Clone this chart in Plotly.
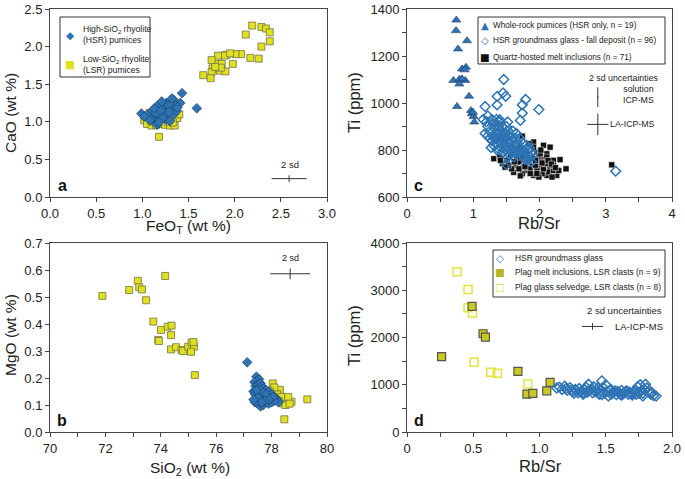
import plotly.graph_objects as go

# ---------------- panel a: CaO vs FeOT ----------------
a_hsr_feo = [0.99, 1.43, 1.59, 1.34, 1.26, 1.16, 1.23, 1.10, 1.05, 1.12, 1.17, 1.26, 1.34, 1.37,
             1.41, 1.30, 1.19, 1.25, 1.30, 1.16, 1.10, 1.21, 1.36, 1.26, 1.14, 1.08, 1.20, 1.28,
             1.32, 1.13, 1.22, 1.38, 1.02, 1.18, 1.29]
a_hsr_cao = [1.11, 1.38, 1.18, 1.29, 1.25, 1.21, 1.16, 1.14, 1.09, 1.05, 1.01, 1.03, 1.10, 1.14,
             1.25, 1.18, 1.09, 1.07, 1.01, 0.96, 1.03, 1.27, 1.21, 1.12, 1.12, 1.02, 1.15, 1.22,
             1.31, 1.18, 1.05, 1.19, 1.07, 0.99, 1.13]
a_lsr_feo = [1.02, 1.05, 1.10, 1.15, 1.20, 1.25, 1.30, 1.35, 1.38, 1.40, 1.08, 1.18, 1.12, 1.28,
             1.33, 1.22, 1.15, 1.03,
             2.19, 2.29, 2.34, 2.38, 2.38, 2.12, 2.29, 2.17, 2.26, 2.07, 2.01, 1.98, 1.91, 1.89,
             1.82, 1.80, 1.75, 1.86, 1.84, 1.90, 1.76, 1.75, 1.66, 1.74, 1.85, 1.79, 1.95]
a_lsr_cao = [1.02, 0.97, 0.95, 0.96, 0.97, 0.96, 0.95, 0.95, 1.05, 1.10, 1.12, 0.80, 1.00, 1.00,
             0.99, 1.04, 1.08, 1.08,
             2.28, 2.26, 2.24, 2.19, 2.07, 2.16, 2.00, 1.85, 1.84, 1.90, 1.90, 1.77, 1.89, 1.88,
             1.88, 1.77, 1.82, 1.77, 1.68, 1.67, 1.71, 1.66, 1.62, 1.58, 1.72, 1.73, 1.91]

# ---------------- panel b: MgO vs SiO2 ----------------
b_hsr_sio2 = [77.12, 77.45, 77.55, 77.38, 77.42, 77.50, 77.60, 77.65, 77.70, 77.80, 77.90, 78.00,
              78.10, 78.20, 78.25, 77.35, 77.40, 77.45, 77.40, 77.50, 77.60, 77.70, 77.80, 77.90,
              78.00, 78.10, 77.55, 77.65, 77.75, 77.85, 77.95, 77.60, 77.70, 77.80, 77.50, 77.35,
              77.45, 78.05, 77.90, 77.75, 77.65]
b_hsr_mgo = [0.258, 0.205, 0.195, 0.185, 0.170, 0.175, 0.180, 0.170, 0.160, 0.155, 0.150, 0.140,
             0.130, 0.120, 0.110, 0.150, 0.140, 0.120, 0.110, 0.105, 0.095, 0.100, 0.110, 0.105,
             0.110, 0.115, 0.140, 0.130, 0.125, 0.130, 0.125, 0.155, 0.145, 0.140, 0.130, 0.120,
             0.155, 0.130, 0.120, 0.115, 0.110]
b_lsr_sio2 = [71.89, 73.17, 72.86, 73.22, 73.32, 74.16, 73.47, 73.73, 74.01, 74.25, 74.39, 74.37,
              73.91, 73.93, 74.37, 74.55, 74.75, 74.80, 74.99, 75.11, 75.20, 75.18, 75.09, 75.23,
              78.04, 78.54, 78.72, 79.29, 78.46, 78.42, 78.30, 78.20, 78.10, 78.35, 78.60, 78.50,
              78.25, 78.65, 77.95, 78.15]
b_lsr_mgo = [0.504, 0.560, 0.526, 0.536, 0.528, 0.578, 0.488, 0.409, 0.378, 0.390, 0.394, 0.359,
             0.341, 0.337, 0.306, 0.314, 0.304, 0.300, 0.316, 0.331, 0.316, 0.333, 0.297, 0.211,
             0.180, 0.125, 0.112, 0.121, 0.047, 0.106, 0.156, 0.140, 0.165, 0.130, 0.130, 0.100,
             0.115, 0.105, 0.150, 0.120]

# ---------------- panel c: Ti vs Rb/Sr ----------------
c_wr_rbsr = [0.745, 0.74, 0.906, 0.77, 0.83, 0.89, 0.87, 0.88, 0.70, 0.79, 0.79, 0.936, 0.755,
             0.966, 0.98, 1.006, 1.016, 0.83, 0.996]
c_wr_ti = [1353, 1308, 1265, 1230, 1145, 1152, 1141, 1096, 1096, 1101, 1081, 1029, 985, 968,
           954, 943, 919, 1103, 961]
c_gl_rbsr = [1.20, 1.22, 1.25, 1.28, 1.30, 1.32, 1.34, 1.36, 1.38, 1.40, 1.42, 1.44, 1.46, 1.48,
             1.50, 1.52, 1.54, 1.56, 1.58, 1.60, 1.62, 1.64, 1.66, 1.68, 1.70, 1.72, 1.74, 1.76,
             1.78, 1.80, 1.82, 1.84, 1.86, 1.88, 1.90, 1.25, 1.28, 1.30, 1.33, 1.35, 1.38, 1.40,
             1.43, 1.45, 1.47, 1.50, 1.53, 1.55, 1.57, 1.60, 1.63, 1.18, 1.15, 1.22, 1.27, 1.31,
             1.36, 1.42, 1.48, 1.52, 1.58, 1.65, 1.70, 1.74, 1.80, 1.85, 1.35, 1.40, 1.45, 1.32,
             1.37, 1.41, 1.46, 1.51, 1.56, 1.61, 1.66, 1.78, 1.83, 1.87,
             1.46, 1.18, 1.36, 1.36, 1.45, 1.49, 1.79, 1.74, 1.99, 1.74, 1.71, 1.52, 1.40, 1.50,
             3.15, 1.22]
c_gl_ti = [920, 900, 880, 930, 910, 890, 870, 850, 900, 880, 860, 840, 820, 870, 850, 830, 810,
           860, 840, 820, 800, 790, 830, 810, 790, 780, 800, 770, 790, 760, 780, 800, 770, 750,
           780, 850, 840, 860, 830, 910, 820, 800, 900, 790, 810, 900, 880, 780, 800, 880, 850,
           870, 930, 860, 810, 820, 800, 830, 800, 770, 790, 870, 850, 830, 820, 810, 930, 920,
           870, 850, 870, 850, 850, 810, 830, 770, 790, 760, 760, 790,
           1100, 985, 1028, 992, 1043, 1029, 1015, 992, 972, 957, 926, 919, 929, 739, 710, 945]
c_mi_rbsr = [1.74, 1.91, 2.06, 2.16, 1.31, 1.40, 1.44, 1.61, 1.64, 1.74, 1.96, 1.99, 2.07, 2.21,
             2.31, 2.40, 2.26, 2.11, 1.91, 1.81, 2.01, 2.16, 2.04, 1.89, 1.79, 1.74, 1.58, 1.96,
             2.14, 2.21, 2.01, 1.84, 1.69, 1.91, 1.81, 2.11, 1.51, 1.66, 1.86, 2.06, 2.21, 1.99,
             2.19, 2.29, 1.53, 1.76, 1.94, 2.09, 2.11, 2.01, 1.84, 1.71, 1.66, 1.56, 1.41, 1.48,
             1.86, 1.96, 2.04, 2.13, 1.69, 1.78, 1.88, 2.18, 2.24, 1.94, 1.62, 2.02, 1.71, 3.09]
c_mi_ti = [859, 834, 820, 812, 763, 770, 742, 705, 735, 770, 791, 770, 759, 756, 759, 720, 692,
           692, 692, 713, 727, 727, 699, 735, 742, 699, 720, 713, 706, 713, 749, 756, 749, 812,
           784, 784, 756, 770, 720, 720, 734, 685, 685, 713, 735, 727, 735, 742, 770, 784, 827,
           806, 791, 777, 756, 727, 700, 700, 745, 755, 720, 730, 765, 740, 725, 755, 750, 800,
           690, 737]

# ---------------- panel d: Ti vs Rb/Sr ----------------
d_gl_rbsr = [1.13, 1.17, 1.19, 1.21, 1.23, 1.25, 1.27, 1.29, 1.30, 1.32, 1.33, 1.35, 1.37, 1.38,
             1.40, 1.41, 1.43, 1.45, 1.47, 1.48, 1.50, 1.51, 1.52, 1.54, 1.55, 1.57, 1.58, 1.60,
             1.62, 1.63, 1.65, 1.67, 1.68, 1.70, 1.72, 1.74, 1.75, 1.76, 1.78, 1.79, 1.80, 1.82,
             1.84, 1.86, 1.88, 1.15, 1.20, 1.24, 1.28, 1.31, 1.34, 1.36, 1.39, 1.42, 1.44, 1.46,
             1.49, 1.53, 1.56, 1.59, 1.61, 1.64, 1.66, 1.69, 1.71, 1.73, 1.77, 1.81, 1.85, 1.26,
             1.33, 1.47, 1.54, 1.62, 1.70, 1.78]
d_gl_ti = [930, 900, 970, 880, 940, 860, 900, 830, 920, 870, 800, 950, 1010, 880, 830, 960, 890,
           800, 1080, 940, 1000, 860, 760, 900, 820, 870, 790, 830, 880, 810, 860, 800, 840, 780,
           870, 960, 820, 1000, 760, 900, 1010, 850, 800, 770, 760, 950, 920, 890, 870, 850, 900,
           840, 910, 850, 930, 870, 820, 880, 840, 860, 800, 830, 870, 820, 850, 800, 880, 930,
           830, 820, 840, 790, 800, 780, 810, 820]
d_mi_rbsr = [0.491, 0.574, 0.592, 0.261, 0.837, 0.905, 0.950, 1.055, 1.080]
d_mi_ti = [2660, 2079, 2007, 1596, 1284, 801, 816, 872, 1049]
d_sv_rbsr = [0.378, 0.461, 0.461, 0.494, 0.506, 0.632, 0.682, 0.912]
d_sv_ti = [3390, 3014, 2632, 2518, 1475, 1262, 1241, 1014]
d_xticks = [0, 0.5, 1.0, 1.5, 2.0]
d_xticktext = ["0", "0.5", "1.0", "1.5", "2.0"]

# 2 sd uncertainty crosses: (x, y, +-x, +-y)
sd_a = (2.59, 0.244, 0.19, 0.045)
sd_b = (78.67, 0.586, 0.72, 0.02)
sd_c_sol = (2.88, 1025, 0.01, 42)
sd_c_la = (2.88, 909, 0.16, 46)
sd_d_la = (1.40, 2234, 0.08, 70)

BLUE = "#2e74b5"
NAVY = "#1c3a5c"
YEL = "#dfe01e"
FONT = "Arial, Liberation Sans, sans-serif"
W, H = 685, 479

fig = go.Figure()


def pts(x, y, xa, ya, marker):
    fig.add_trace(go.Scatter(x=x, y=y, mode="markers", marker=marker,
                             xaxis=xa, yaxis=ya, showlegend=False))


def cross(sd, xa, ya):
    x, y, ex, ey = sd
    fig.add_trace(go.Scatter(
        x=[x], y=[y], mode="markers", xaxis=xa, yaxis=ya, showlegend=False,
        marker=dict(size=2, color="rgba(0,0,0,0)"),
        error_x=dict(type="constant", value=ex, width=0, thickness=1, color="#333"),
        error_y=dict(type="constant", value=ey, width=0, thickness=1, color="#333"),
    ))


sq_lsr = dict(symbol="square", size=7, color=YEL, line=dict(color="#74744a", width=0.8))
dm_hsr = dict(symbol="diamond", size=7.5, color=BLUE, line=dict(color=NAVY, width=0.6))
tri_wr = dict(symbol="triangle-up", size=8, color=BLUE, line=dict(color=NAVY, width=0.6))
dm_open = dict(symbol="diamond-open", size=7.5, color=BLUE, line=dict(color=BLUE, width=1.5))
sq_mi = dict(symbol="square", size=6, color="#111", line=dict(color="#fff", width=0.5))
sq_plag = dict(symbol="square", size=8, color="#c9c920", line=dict(color="#555", width=1.2))
sq_open = dict(symbol="square-open", size=8, color="#e4e43c", line=dict(color="#e4e43c", width=1.5))

# panel a
pts(a_lsr_feo, a_lsr_cao, "x", "y", sq_lsr)
pts(a_hsr_feo, a_hsr_cao, "x", "y", dm_hsr)
cross(sd_a, "x", "y")
# panel b
pts(b_lsr_sio2, b_lsr_mgo, "x2", "y2", sq_lsr)
pts(b_hsr_sio2, b_hsr_mgo, "x2", "y2", dm_hsr)
cross(sd_b, "x2", "y2")
# panel c
pts(c_mi_rbsr, c_mi_ti, "x3", "y3", sq_mi)
pts(c_wr_rbsr, c_wr_ti, "x3", "y3", tri_wr)
pts(c_gl_rbsr, c_gl_ti, "x3", "y3", dm_open)
cross(sd_c_sol, "x3", "y3")
cross(sd_c_la, "x3", "y3")
# panel d
pts(d_sv_rbsr, d_sv_ti, "x4", "y4", sq_open)
pts(d_mi_rbsr, d_mi_ti, "x4", "y4", sq_plag)
pts(d_gl_rbsr, d_gl_ti, "x4", "y4", dm_open)
cross(sd_d_la, "x4", "y4")

ax = dict(showline=True, linecolor="#444", linewidth=1, mirror=True, showgrid=False,
          zeroline=False, ticks="outside", ticklen=4, tickcolor="#444", automargin=False,
          tickfont=dict(size=13, color="#222"))
minor = dict(ticks="outside", ticklen=4, tickcolor="#444", showgrid=False)

XL = [50 / W, 327 / W]
XR = [407 / W, 672 / W]
YT = [(H - 197) / H, (H - 9) / H]
YB = [(H - 432) / H, (H - 243) / H]

fig.update_layout(
    width=W, height=H, margin=dict(l=0, r=0, t=0, b=0),
    paper_bgcolor="white", plot_bgcolor="white",
    font=dict(family=FONT, color="#222"), showlegend=False,
    xaxis=dict(ax, domain=XL, anchor="y", range=[0, 3], dtick=0.5, tickformat=".1f"),
    yaxis=dict(ax, domain=YT, anchor="x", range=[0, 2.5], dtick=0.5, tickformat=".1f"),
    xaxis2=dict(ax, domain=XL, anchor="y2", range=[70, 80], dtick=2, minor=dict(minor, dtick=1)),
    yaxis2=dict(ax, domain=YB, anchor="x2", range=[0, 0.7], dtick=0.1, tickformat=".1f"),
    xaxis3=dict(ax, domain=XR, anchor="y3", range=[0, 4], dtick=1, minor=dict(minor, dtick=0.5)),
    yaxis3=dict(ax, domain=YT, anchor="x3", range=[600, 1400], dtick=200,
                minor=dict(minor, dtick=100)),
    xaxis4=dict(ax, domain=XR, anchor="y4", range=[0, 2], tickvals=d_xticks, ticktext=d_xticktext,
                minor=dict(minor, dtick=0.25)),
    yaxis4=dict(ax, domain=YB, anchor="x4", range=[0, 4000], dtick=1000,
                minor=dict(minor, dtick=500)),
)


def px(x, y):
    return x / W, 1 - y / H


# axis titles placed at the original figure's pixel positions
titles = [
    (188, 226, 0, "FeO<sub>T</sub> (wt %)", 15.5),
    (10, 113, -90, "CaO (wt %)", 15.5),
    (190, 468, 0, "SiO<sub>2</sub> (wt %)", 15.5),
    (10, 335, -90, "MgO (wt %)", 15.5),
    (539, 223, 0, "Rb/Sr", 16.5),
    (354, 103, -90, "Ti (ppm)", 16.5),
    (540, 466, 0, "Rb/Sr", 16.5),
    (354, 336, -90, "Ti (ppm)", 16.5),
]
for tx, ty, ang, t, fs in titles:
    x, y = px(tx, ty)
    fig.add_annotation(x=x, y=y, xref="paper", yref="paper", text=t, showarrow=False,
                       textangle=ang, xanchor="center", yanchor="middle",
                       font=dict(size=fs, color="#222"))

# legends drawn as boxed text (pixel layout of the original figure)
legends = [
    # box (x0, y0, x1, y1), entries: (symbol, colour, symbol x, text x, y, label, size)
    ((60, 17, 150, 77), [
        ("◆", BLUE, 70, 81, 35, "High-SiO<sub>2</sub> rhyolite<br>(HSR) pumices", 8.6),
        ("■", YEL, 70, 81, 64, "Low-SiO<sub>2</sub> rhyolite<br>(LSR) pumices", 8.6),
    ]),
    ((478, 17, 665, 64), [
        ("▲", BLUE, 485, 491, 25, "Whole-rock pumices (HSR only, n = 19)", 8.2),
        ("◇", BLUE, 485, 491, 41, "HSR groundmass glass - fall deposit (n = 96)", 8.2),
        ("■", "#111", 485, 491, 57, "Quartz-hosted melt inclusions (n = 71)", 8.2),
    ]),
    ((493, 250, 665, 297), [
        ("◇", BLUE, 500, 513, 258, "HSR groundmass glass", 8.4),
        ("■", "#b8b81c", 500, 513, 272, "Plag melt inclusions, LSR clasts (n = 9)", 8.4),
        ("□", "#e0e030", 500, 513, 287, "Plag glass selvedge, LSR clasts (n = 8)", 8.4),
    ]),
]
for (x0, y0, x1, y1), entries in legends:
    fig.add_shape(type="rect", xref="paper", yref="paper",
                  x0=x0 / W, x1=x1 / W, y0=1 - y1 / H, y1=1 - y0 / H,
                  line=dict(color="#333", width=1), fillcolor="white", layer="above")
    for sym, col, sx, tx, ty, label, fs in entries:
        gx, gy = px(sx, ty)
        fig.add_annotation(x=gx, y=gy, xref="paper", yref="paper", text=sym, showarrow=False,
                           xanchor="center", yanchor="middle",
                           font=dict(family="DejaVu Sans", size=fs + 2, color=col))
        lx, ly = px(tx, ty)
        fig.add_annotation(x=lx, y=ly, xref="paper", yref="paper", text=label, showarrow=False,
                           xanchor="left", yanchor="middle", align="left",
                           font=dict(size=fs, color="#222"))

notes = [
    ("x", "y", 2.60, 0.43, "2 sd", 9.5),
    ("x2", "y2", 78.7, 0.645, "2 sd", 9),
    ("x3", "y3", 3.28, 1105, "2 sd uncertainties", 8.8),
    ("x3", "y3", 3.49, 1035, "solution<br>ICP-MS", 8.8),
    ("x3", "y3", 3.41, 909, "LA-ICP-MS", 8.8),
    ("x4", "y4", 1.64, 2574, "2 sd uncertainties", 9.5),
    ("x4", "y4", 1.75, 2234, "LA-ICP-MS", 9.5),
]
for xr, yr, x, y, t, fs in notes:
    fig.add_annotation(x=x, y=y, xref=xr, yref=yr, text=t, showarrow=False,
                       font=dict(size=fs, color="#222"))

for xr, yr, t in [("x", "y", "a"), ("x2", "y2", "b"), ("x3", "y3", "c"), ("x4", "y4", "d")]:
    fig.add_annotation(x=0.045, y=0.06, xref=f"{xr} domain", yref=f"{yr} domain",
                       text=f"<b>{t}</b>", showarrow=False, xanchor="center", yanchor="middle",
                       font=dict(size=16, color="#111"))

# the page body has a default 8px margin; remove it so the figure fills the window
fig.write_html("out.html", config={"displayModeBar": False},
               post_script="document.body.style.margin = '0px';")
